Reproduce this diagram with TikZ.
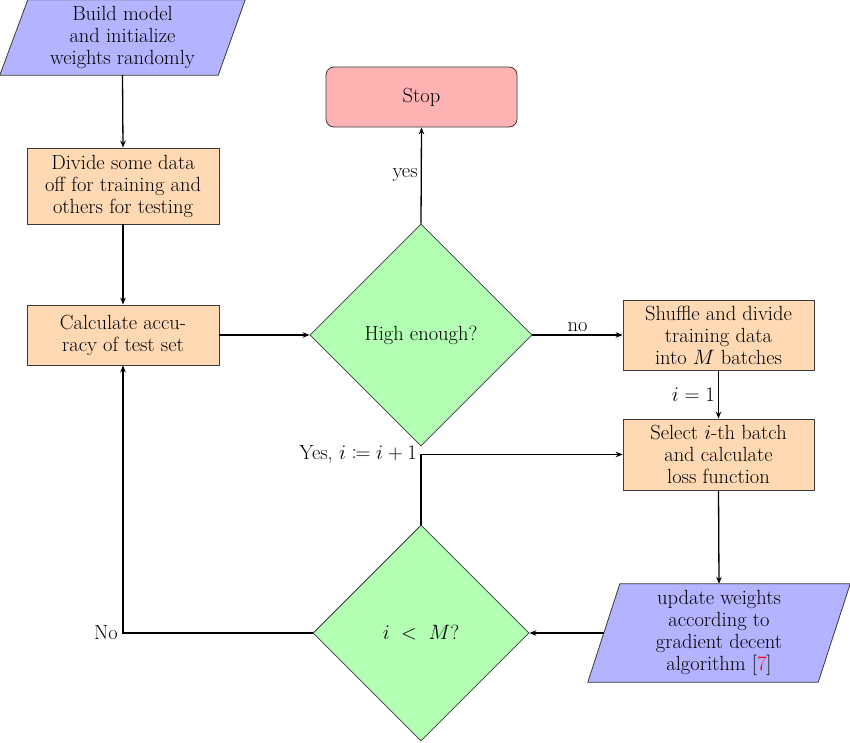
\documentclass[tikz,border=0pt]{standalone}
\usepackage{mathtools}
\usetikzlibrary{shapes.geometric,arrows.meta,backgrounds,calc}
\definecolor{cblue}{HTML}{B3B3FF}
\definecolor{corange}{HTML}{FFD9B3}
\definecolor{cgreen}{HTML}{B3FFB3}
\definecolor{cred}{HTML}{FFB3B3}
\definecolor{cborder}{HTML}{3A3A3A}
\tikzset{
  base/.style={font=\fontsize{20.5}{22}\selectfont, align=center, inner sep=0pt},
  procbox/.style={base, rectangle, draw=cborder, line width=0.8pt, fill=corange},
  stopbox/.style={base, rectangle, rounded corners=8pt, draw=cborder, line width=0.8pt, fill=cred},
  decbox/.style={base, diamond, shape aspect=1, draw=cborder, line width=0.8pt, fill=cgreen},
  iobox/.style={base, rectangle},
  para/.style={fill=cblue, draw=cborder, line width=0.8pt},
  conn/.style={line width=1.3pt, -{Stealth[length=7pt,width=5.5pt]}},
  lbl/.style={font=\fontsize{20.5}{22}\selectfont, inner sep=3pt}
}
\begin{document}
\begin{tikzpicture}[x=1pt,y=-1pt]
\useasboundingbox (0,0) rectangle (850,742);
% nodes
\node[iobox, minimum width=245pt, minimum height=75pt] (build) at (122.5,37.5)
  {Build model\\and initialize\\weights randomly};
\node[procbox, minimum width=192pt, minimum height=76pt] (divide) at (123,186)
  {Divide some data\\off for training and\\others for testing};
\node[procbox, minimum width=192pt, minimum height=60pt] (calc) at (123,335)
  {Calculate accu-\\racy of test set};
\node[decbox, minimum size=222pt] (high) at (421,335) {High enough?};
\node[stopbox, minimum width=191pt, minimum height=60pt] (stop) at (421.5,97) {Stop};
\node[procbox, minimum width=191pt, minimum height=70pt] (shuffle) at (718.5,335)
  {Shuffle and divide\\training data\\into $M$ batches};
\node[procbox, minimum width=191pt, minimum height=71pt] (select) at (718.5,454.5)
  {Select $i$-th batch\\and calculate\\loss function};
\node[iobox, minimum width=262pt, minimum height=98pt] (update) at (719,633)
  {update weights\\according to\\gradient decent\\algorithm [{\color{red}7}]};
\node[decbox, minimum size=216pt] (less) at (421,633) {$i \;<\; M$?};
% parallelograms behind text
\begin{scope}[on background layer]
\draw[para] (build.south west) -- ($(build.north west)+(28,0)$) -- (build.north east)
  -- ($(build.south east)+(-27,0)$) -- cycle;
\draw[para] (update.south west) -- ($(update.north west)+(32,0)$) -- (update.north east)
  -- ($(update.south east)+(-32,0)$) -- cycle;
\end{scope}
% connectors
\draw[conn] (build.south) -- (divide.north);
\draw[conn] (divide.south) -- (calc.north);
\draw[conn] (calc.east) -- (high.west);
\draw[conn] (high.north) -- node[lbl, left] {yes} (stop.south);
\draw[conn] (high.east) -- node[lbl, above] {no} (shuffle.west);
\draw[conn] (shuffle.south) -- node[lbl, left] {$i = 1$} (select.north);
\draw[conn] (select.south) -- (update.north);
\draw[conn] ($(update.west)+(16,0)$) -- (less.east);
\coordinate (nocorner) at (calc.south |- less.west);
\draw[conn] (less.west) -- (nocorner) -- (calc.south);
\node[lbl, anchor=east, inner sep=5pt] at (nocorner) {No};
\coordinate (yescorner) at (less.north |- select.west);
\draw[conn] (less.north) -- (yescorner) -- (select.west);
\node[lbl, anchor=east, inner sep=4pt] at (yescorner) {Yes, $i \coloneqq i + 1$};
\end{tikzpicture}
\end{document}
